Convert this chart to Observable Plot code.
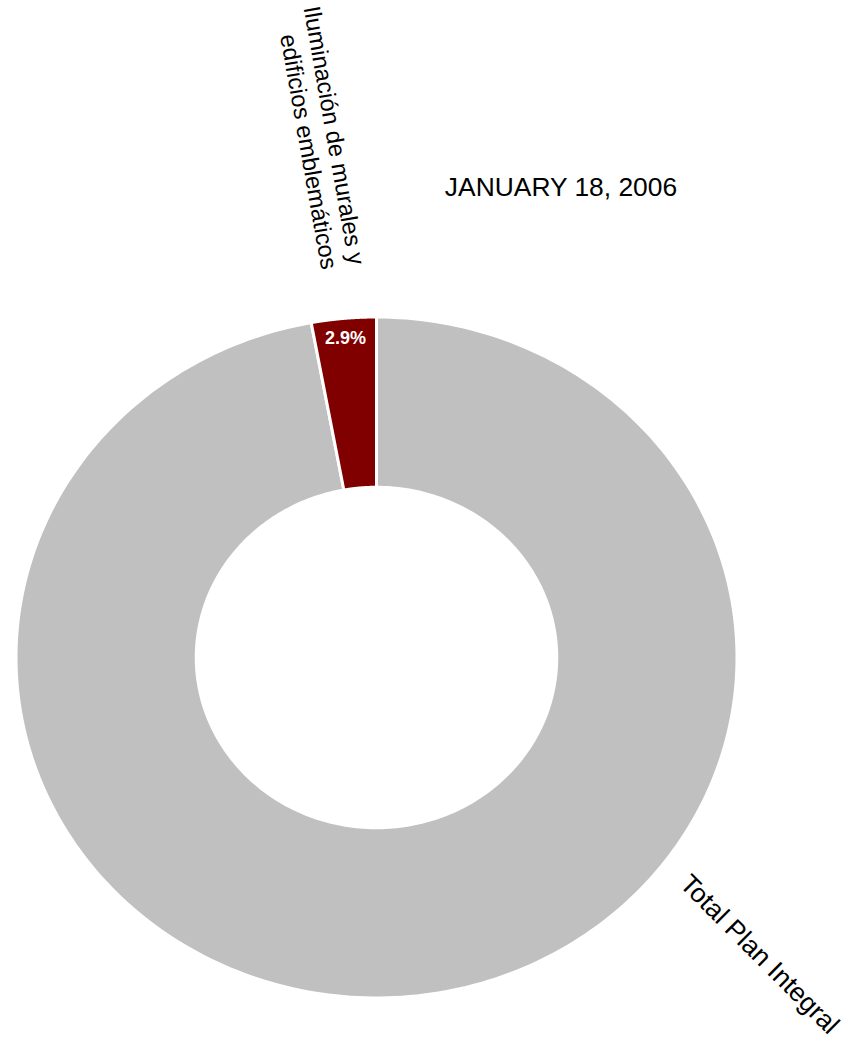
<!DOCTYPE html>
<html><head><meta charset="utf-8">
<script src="https://cdn.jsdelivr.net/npm/d3@7"></script>
<script src="https://cdn.jsdelivr.net/npm/@observablehq/plot@0.6"></script>
<style>body{margin:0;background:#fff;} svg{display:block}</style>
</head><body><div id="chart"></div>
<script>
const categories = ["Total Plan Integral", "Iluminación de murales y\nedificios emblemáticos"];
const values = [97.1, 2.9];
const colors = ["#C0C0C0", "#800000"];
const title = "JANUARY 18, 2006";

const W = 859, H = 1042;
const cx = 376, cy = 657, rx = 360.5, ry = 340.5;
const hole = 0.5;
const total = d3.sum(values);
let acc = 0;
const slices = categories.map((name, i) => {
  const a0 = acc / total * 2 * Math.PI; acc += values[i];
  const a1 = acc / total * 2 * Math.PI;
  return {name, value: values[i], color: colors[i], a0, a1, mid: (a0 + a1) / 2};
});
function ring(s) {
  const n = 300, pts = [];
  for (let k = 0; k <= n; k++) { const a = s.a0 + (s.a1 - s.a0) * k / n; pts.push({x: Math.sin(a), y: Math.cos(a)}); }
  for (let k = n; k >= 0; k--) { const a = s.a0 + (s.a1 - s.a0) * k / n; pts.push({x: hole * Math.sin(a), y: hole * Math.cos(a)}); }
  return pts;
}
// pixel -> data helpers for label placement
const px = X => (X - cx) / rx, py = Y => (cy - Y) / ry;

const chart = Plot.plot({
  width: W, height: H, margin: 0,
  x: {domain: [-1, 1], range: [cx - rx, cx + rx], axis: null},
  y: {domain: [-1, 1], range: [cy + ry, cy - ry], axis: null},
  style: {fontFamily: "'Liberation Sans', Arial, sans-serif", background: "white"},
  marks: [
    ...slices.map(s => Plot.line(ring(s), {x: "x", y: "y", fill: s.color, stroke: "white", strokeWidth: 3, curve: "linear-closed"})),
    Plot.text([slices[1]], {
      x: d => 0.943 * Math.sin(d.mid), y: d => 0.943 * Math.cos(d.mid),
      text: d => (d.value / total * 100).toFixed(1) + "%",
      fill: "white", fontWeight: "bold", fontSize: 18
    }),
    Plot.text([slices[1]], {
      x: () => px(321), y: () => py(270), text: "name", rotate: 80,
      textAnchor: "end", lineAnchor: "bottom", lineHeight: 1.18, fontSize: 23.7, fill: "black"
    }),
    Plot.text([slices[0]], {
      x: () => px(759), y: () => py(954), text: "name", rotate: 45,
      fontSize: 26.5, fill: "black"
    }),
    Plot.text([title], {
      x: () => px(560.5), y: () => py(187.5), text: d => d, fontSize: 26.4, fill: "black"
    })
  ]
});
document.getElementById("chart").appendChild(chart);
</script>
</body></html>
